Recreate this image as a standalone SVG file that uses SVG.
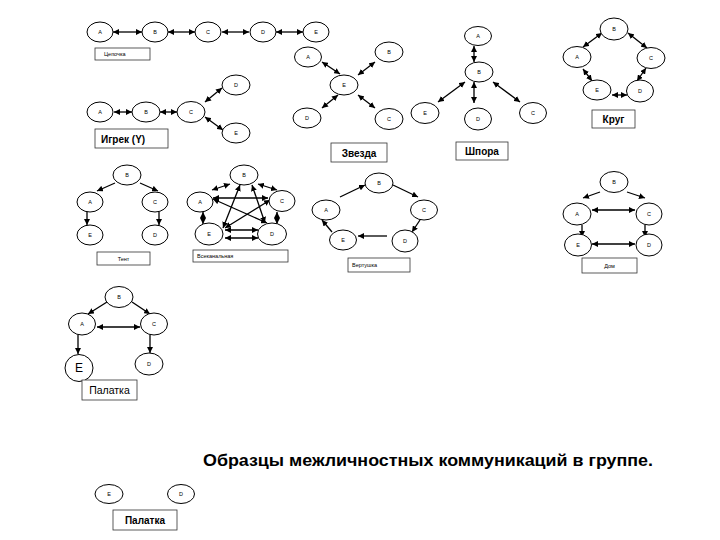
<svg xmlns="http://www.w3.org/2000/svg" width="720" height="540" viewBox="0 0 720 540">
<defs>
<marker id="ah" viewBox="0 0 10 10" refX="10" refY="5" markerWidth="6" markerHeight="6" markerUnits="userSpaceOnUse" orient="auto-start-reverse"><path d="M0,0 L10,5 L0,10 z" fill="#000"/></marker>
</defs>
<style>
ellipse{fill:#fff;stroke:#000;stroke-width:1}
.n text{font-family:"Liberation Sans",Arial,sans-serif;font-size:5.5px;text-anchor:middle;dominant-baseline:central}
.c line{stroke:#000;stroke-width:1.3}
.d{marker-start:url(#ah);marker-end:url(#ah)}
.s{marker-end:url(#ah)}
.box rect{fill:#fff;stroke:#333;stroke-width:0.8}
.box text{font-family:"Liberation Sans",Arial,sans-serif;text-anchor:middle;dominant-baseline:central}
.sm{font-size:5.5px}
.bd{font-size:10px;font-weight:bold}
</style>
<rect width="720" height="540" fill="#fff"/>
<g id="connectors" class="c">
<line class="d" x1="113" y1="32" x2="142" y2="32"/>
<line class="d" x1="168" y1="32" x2="195" y2="32"/>
<line class="d" x1="222" y1="32" x2="249" y2="32"/>
<line class="d" x1="276" y1="32" x2="303" y2="32"/>
<line class="d" x1="114" y1="112" x2="132" y2="112"/>
<line class="d" x1="160" y1="112" x2="177" y2="112"/>
<line class="d" x1="205" y1="102" x2="222" y2="88"/>
<line class="d" x1="205" y1="117" x2="223" y2="130"/>
<line class="d" x1="322" y1="62" x2="340" y2="74"/>
<line class="d" x1="375" y1="62" x2="358" y2="75"/>
<line class="d" x1="338" y1="95" x2="322" y2="108"/>
<line class="d" x1="358" y1="95" x2="375" y2="108"/>
<line class="d" x1="474" y1="46" x2="474" y2="62"/>
<line class="d" x1="465" y1="82" x2="438" y2="102"/>
<line class="d" x1="474" y1="82" x2="474" y2="103"/>
<line class="d" x1="493" y1="82" x2="520" y2="102"/>
<line class="d" x1="583" y1="47" x2="602" y2="33"/>
<line class="d" x1="628" y1="33" x2="647" y2="48"/>
<line class="d" x1="583" y1="69" x2="592" y2="81"/>
<line class="d" x1="646" y1="68" x2="637" y2="81"/>
<line class="d" x1="612" y1="95" x2="627" y2="95"/>
<line class="s" x1="115" y1="183" x2="97" y2="191"/>
<line class="s" x1="140" y1="183" x2="158" y2="191"/>
<line class="s" x1="87" y1="212" x2="87" y2="225"/>
<line class="s" x1="159" y1="212" x2="159" y2="225"/>
<line class="d" x1="212" y1="190" x2="230" y2="184"/>
<line class="d" x1="258" y1="184" x2="277" y2="190"/>
<line class="d" x1="213" y1="198" x2="268" y2="198"/>
<line class="d" x1="213" y1="199" x2="267" y2="223"/>
<line class="d" x1="203" y1="212" x2="203" y2="224"/>
<line class="d" x1="277" y1="212" x2="277" y2="224"/>
<line class="d" x1="223" y1="228" x2="240" y2="185"/>
<line class="d" x1="225" y1="228" x2="270" y2="200"/>
<line class="d" x1="265" y1="223" x2="252" y2="185"/>
<line class="d" x1="225" y1="230" x2="258" y2="230"/>
<line class="d" x1="225" y1="238" x2="258" y2="238"/>
<line class="s" x1="340" y1="197" x2="365" y2="185"/>
<line class="s" x1="393" y1="185" x2="418" y2="197"/>
<line class="s" x1="420" y1="220" x2="412" y2="232"/>
<line class="s" x1="387" y1="236" x2="358" y2="236"/>
<line class="s" x1="332" y1="232" x2="322" y2="220"/>
<line class="s" x1="600" y1="192" x2="583" y2="198"/>
<line class="s" x1="627" y1="192" x2="645" y2="198"/>
<line class="d" x1="592" y1="210" x2="635" y2="210"/>
<line class="s" x1="582" y1="225" x2="582" y2="237"/>
<line class="s" x1="645" y1="225" x2="645" y2="237"/>
<line class="d" x1="592" y1="244" x2="635" y2="244"/>
<line class="s" x1="107" y1="302" x2="88" y2="314"/>
<line class="s" x1="132" y1="302" x2="150" y2="314"/>
<line class="d" x1="97" y1="327" x2="140" y2="327"/>
<line class="s" x1="78" y1="335" x2="78" y2="354"/>
<line class="s" x1="150" y1="335" x2="150" y2="353"/>
</g>

<g id="chain" class="n">
<g id="ch-A"><ellipse cx="100" cy="32" rx="13" ry="10"/><text x="100" y="32">A</text></g>
<g id="ch-B"><ellipse cx="155" cy="32" rx="13" ry="10"/><text x="155" y="32">B</text></g>
<g id="ch-C"><ellipse cx="208" cy="32" rx="13" ry="10"/><text x="208" y="32">C</text></g>
<g id="ch-D"><ellipse cx="263" cy="32" rx="13" ry="10"/><text x="263" y="32">D</text></g>
<g id="ch-E"><ellipse cx="316" cy="32" rx="13" ry="10"/><text x="316" y="32">E</text></g>
</g>
<g id="chain-label" class="box"><rect x="95" y="48" width="55" height="12"/><text class="sm" x="104" y="54" style="text-anchor:start">Цепочка</text></g>

<g id="igrek" class="n">
<g id="ig-A"><ellipse cx="100" cy="112" rx="13" ry="10"/><text x="100" y="112">A</text></g>
<g id="ig-B"><ellipse cx="146" cy="112" rx="14" ry="10"/><text x="146" y="112">B</text></g>
<g id="ig-C"><ellipse cx="191" cy="112" rx="14" ry="10.5"/><text x="191" y="112">C</text></g>
<g id="ig-D"><ellipse cx="236" cy="85" rx="14" ry="10"/><text x="236" y="85">D</text></g>
<g id="ig-E"><ellipse cx="236" cy="133" rx="14" ry="10"/><text x="236" y="133">Е</text></g>
</g>
<g id="igrek-label" class="box"><rect x="95" y="129" width="73" height="19"/><text class="bd" x="101" y="139" style="text-anchor:start">Игрек (Y)</text></g>

<g id="star" class="n">
<g id="st-A"><ellipse cx="308" cy="57" rx="13.5" ry="10"/><text x="308" y="57">A</text></g>
<g id="st-B"><ellipse cx="389" cy="52" rx="14" ry="10"/><text x="389" y="52">B</text></g>
<g id="st-E"><ellipse cx="344" cy="85" rx="14" ry="10"/><text x="344" y="85">Е</text></g>
<g id="st-D"><ellipse cx="307" cy="118" rx="14" ry="10"/><text x="307" y="118">D</text></g>
<g id="st-C"><ellipse cx="389" cy="119" rx="14" ry="10.5"/><text x="389" y="119">C</text></g>
</g>
<g id="star-label" class="box"><rect x="331" y="143" width="56" height="19"/><text class="bd" x="359" y="153">Звезда</text></g>

<g id="shpora" class="n">
<g id="sp-A"><ellipse cx="478" cy="36" rx="13.5" ry="9.5"/><text x="478" y="36">A</text></g>
<g id="sp-B"><ellipse cx="479" cy="72" rx="14" ry="10"/><text x="479" y="72">B</text></g>
<g id="sp-E"><ellipse cx="425" cy="113" rx="14" ry="10.5"/><text x="425" y="113">Е</text></g>
<g id="sp-D"><ellipse cx="478" cy="119" rx="13.5" ry="11"/><text x="478" y="119">D</text></g>
<g id="sp-C"><ellipse cx="533" cy="113" rx="13.5" ry="10.5"/><text x="533" y="113">C</text></g>
</g>
<g id="shpora-label" class="box"><rect x="456" y="142" width="52" height="18"/><text class="bd" x="482" y="151">Шпора</text></g>

<g id="krug" class="n">
<g id="kr-B"><ellipse cx="614" cy="29" rx="14" ry="11"/><text x="614" y="29">B</text></g>
<g id="kr-A"><ellipse cx="577" cy="57" rx="14" ry="10.5"/><text x="577" y="57">A</text></g>
<g id="kr-C"><ellipse cx="651" cy="58" rx="14" ry="10.5"/><text x="651" y="58">C</text></g>
<g id="kr-E"><ellipse cx="597" cy="90" rx="14" ry="10"/><text x="597" y="90">Е</text></g>
<g id="kr-D"><ellipse cx="640" cy="91" rx="13.5" ry="11"/><text x="640" y="91">D</text></g>
</g>
<g id="krug-label" class="box"><rect x="592" y="110" width="43" height="18"/><text class="bd" x="613.5" y="119">Круг</text></g>

<g id="tent" class="n">
<g id="tn-B"><ellipse cx="127" cy="175" rx="14" ry="10"/><text x="127" y="175">B</text></g>
<g id="tn-A"><ellipse cx="90" cy="202" rx="13" ry="10"/><text x="90" y="202">A</text></g>
<g id="tn-C"><ellipse cx="155" cy="202" rx="13" ry="10"/><text x="155" y="202">C</text></g>
<g id="tn-E"><ellipse cx="90" cy="235" rx="13" ry="10"/><text x="90" y="235">Е</text></g>
<g id="tn-D"><ellipse cx="155" cy="235" rx="13" ry="10"/><text x="155" y="235">D</text></g>
</g>
<g id="tent-label" class="box"><rect x="97" y="252" width="53" height="13"/><text class="sm" x="123.5" y="258.5">Тент</text></g>

<g id="vsekanalnaya" class="n">
<g id="vk-B"><ellipse cx="244" cy="175" rx="14" ry="10"/><text x="244" y="175">B</text></g>
<g id="vk-A"><ellipse cx="200" cy="202" rx="13" ry="10"/><text x="200" y="202">A</text></g>
<g id="vk-C"><ellipse cx="282" cy="201" rx="13" ry="10.5"/><text x="282" y="201">C</text></g>
<g id="vk-E"><ellipse cx="209" cy="234" rx="14" ry="11"/><text x="209" y="234">Е</text></g>
<g id="vk-D"><ellipse cx="272" cy="234" rx="14.5" ry="11"/><text x="272" y="234">D</text></g>
</g>
<g id="vsekanalnaya-label" class="box"><rect x="193" y="250" width="95" height="12"/><text class="sm" x="197" y="256" style="text-anchor:start">Всеканальная</text></g>

<g id="vertushka" class="n">
<g id="vt-B"><ellipse cx="379" cy="183" rx="14" ry="10"/><text x="379" y="183">B</text></g>
<g id="vt-A"><ellipse cx="326" cy="210" rx="14" ry="10"/><text x="326" y="210">A</text></g>
<g id="vt-C"><ellipse cx="424" cy="210" rx="13.5" ry="10"/><text x="424" y="210">C</text></g>
<g id="vt-D"><ellipse cx="405" cy="241" rx="13" ry="11"/><text x="405" y="241">D</text></g>
<g id="vt-E"><ellipse cx="343" cy="240" rx="13.5" ry="10"/><text x="343" y="240">Е</text></g>
</g>
<g id="vertushka-label" class="box"><rect x="348" y="258" width="62" height="14"/><text class="sm" x="352" y="265" style="text-anchor:start">Вертушка</text></g>

<g id="dom" class="n">
<g id="dm-B"><ellipse cx="614" cy="182" rx="14" ry="10.5"/><text x="614" y="182">B</text></g>
<g id="dm-A"><ellipse cx="577" cy="214" rx="14" ry="11"/><text x="577" y="214">A</text></g>
<g id="dm-C"><ellipse cx="649" cy="214" rx="13" ry="11"/><text x="649" y="214">C</text></g>
<g id="dm-E"><ellipse cx="578" cy="245" rx="13.5" ry="11"/><text x="578" y="245">Е</text></g>
<g id="dm-D"><ellipse cx="649" cy="245" rx="13" ry="11"/><text x="649" y="245">D</text></g>
</g>
<g id="dom-label" class="box"><rect x="582" y="258" width="55" height="15"/><text class="sm" x="609.5" y="265.5">Дом</text></g>

<g id="palatka" class="n">
<g id="pl-B"><ellipse cx="119" cy="297" rx="14" ry="10.5"/><text x="119" y="297">B</text></g>
<g id="pl-A"><ellipse cx="82" cy="324" rx="13.5" ry="11"/><text x="82" y="324">A</text></g>
<g id="pl-C"><ellipse cx="154" cy="324" rx="13.5" ry="11"/><text x="154" y="324">C</text></g>
<g id="pl-E"><ellipse cx="79" cy="368" rx="14" ry="13.5"/><text x="79" y="368" style="font-size:12px">Е</text></g>
<g id="pl-D"><ellipse cx="149" cy="364" rx="14" ry="11"/><text x="149" y="364">D</text></g>
</g>
<g id="palatka-label" class="box"><rect x="82" y="380" width="55" height="20"/><text x="109.5" y="390" style="font-size:10.5px">Палатка</text></g>

<text x="203" y="466" style="font-family:'Liberation Sans',Arial,sans-serif;font-size:17px;font-weight:bold" textLength="450" lengthAdjust="spacingAndGlyphs">Образцы межличностных коммуникаций в группе.</text>

<g id="bottom" class="n">
<g id="bt-E"><ellipse cx="109" cy="494" rx="14" ry="9.5"/><text x="109" y="494">Е</text></g>
<g id="bt-D"><ellipse cx="181" cy="494" rx="13.5" ry="9.5"/><text x="181" y="494">D</text></g>
</g>
<g id="bottom-label" class="box"><rect x="113" y="510" width="64" height="20"/><text class="bd" x="145" y="520">Палатка</text></g>
</svg>
